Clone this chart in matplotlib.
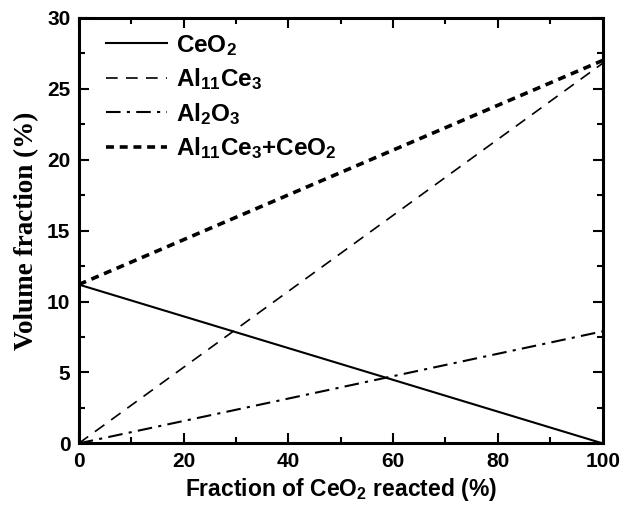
import matplotlib
matplotlib.use("Agg")
import matplotlib.pyplot as plt
import numpy as np

plt.rcParams['font.family'] = ['Liberation Sans', 'DejaVu Sans']
plt.rcParams['font.weight'] = 'bold'
plt.rcParams['mathtext.fontset'] = 'custom'
plt.rcParams['mathtext.rm'] = 'Liberation Sans:bold'
plt.rcParams['mathtext.bf'] = 'Liberation Sans:bold'
plt.rcParams['mathtext.it'] = 'Liberation Sans:bold'
plt.rcParams['mathtext.default'] = 'rm'

# Data
fraction_reacted = [0, 100]
ceo2 = [11.2, 0.0]
al11ce3 = [0.0, 26.8]
al2o3 = [0.0, 7.9]
al11ce3_ceo2 = [11.2, 27.0]

labels = [r'CeO$_2$', r'Al$_{11}$Ce$_3$', r'Al$_2$O$_3$', r'Al$_{11}$Ce$_3$+CeO$_2$']

fig = plt.figure(figsize=(6.2, 5.12), dpi=100)
ax = fig.add_axes([0.127, 0.134, 0.845, 0.831])

ax.plot(fraction_reacted, ceo2, color='black', lw=1.5, ls='-', label=labels[0])
ax.plot(fraction_reacted, al11ce3, color='black', lw=1.2, ls=(0, (7, 5)), label=labels[1])
ax.plot(fraction_reacted, al2o3, color='black', lw=1.5, ls=(0, (7, 3, 1.5, 3)), label=labels[2])
ax.plot(fraction_reacted, al11ce3_ceo2, color='black', lw=2.6, ls=(0, (2.2, 1.6)), label=labels[3])

ax.set_xlim(0, 100)
ax.set_ylim(0, 30)
ax.set_xticks([0, 20, 40, 60, 80, 100])
ax.set_yticks([0, 5, 10, 15, 20, 25, 30])
ax.set_xticks(np.arange(10, 100, 20), minor=True)
ax.set_yticks(np.arange(2.5, 30, 5), minor=True)
ax.tick_params(which='both', direction='in', top=True, right=True, width=1.5)
ax.tick_params(which='major', length=7, labelsize=15, pad=6)
ax.tick_params(which='minor', length=4)
ax.tick_params(axis='x', labeltop=False)
ax.tick_params(axis='y', labelright=False)
for lab in ax.get_xticklabels() + ax.get_yticklabels():
    lab.set_fontweight('bold')
for s in ax.spines.values():
    s.set_linewidth(2.2)

ax.set_xlabel(r'Fraction of CeO$_2$ reacted (%)', fontsize=16.5, fontweight='bold', labelpad=4)
ax.set_ylabel('Volume fraction (%)', fontsize=19.5, fontweight='bold',
              family=['Liberation Serif'], labelpad=6)

leg = ax.legend(loc='upper left', bbox_to_anchor=(0.02, 1.005), frameon=False,
                fontsize=17.5, handlelength=2.5, handletextpad=0.35,
                labelspacing=0.35, borderaxespad=0.4, borderpad=0.3)
for t in leg.get_texts():
    t.set_fontweight('bold')

fig.savefig('out.png', dpi=100)
